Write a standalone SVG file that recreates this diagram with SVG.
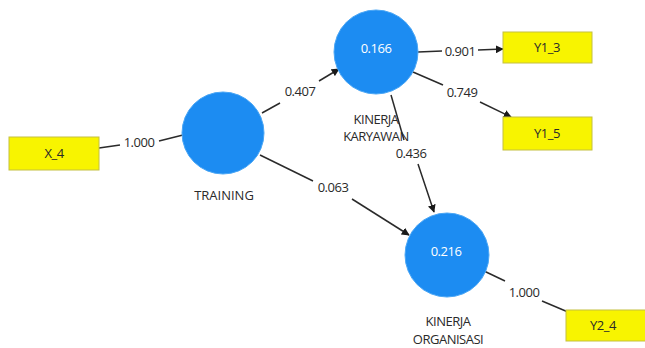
<svg xmlns="http://www.w3.org/2000/svg" width="645" height="348" viewBox="0 0 645 348">
<defs>
<style>
.lv{fill:#1c8cf2;stroke:#4aa6f5;stroke-width:1}
.mv{fill:#f8f400;stroke:#c4c040;stroke-width:1}
.t{font-family:"Open Sans","Liberation Sans",sans-serif;font-size:13px;fill:#2a2a2a;text-anchor:middle;letter-spacing:-0.5px}
.w{fill:#ffffff}
.c{stroke:#2a2a2a;stroke-width:1.5;fill:none}
</style>
<marker id="ah" viewBox="0 0 10 10" refX="9" refY="5" markerWidth="8" markerHeight="8" orient="auto" markerUnits="userSpaceOnUse">
<path d="M0,0 L10,5 L0,10 z" fill="#1a1a1a"/>
</marker>
</defs>
<rect width="645" height="348" fill="#fff"/>
<g id="connectors">
<path class="c" d="M99,148 L120,145"/>
<path class="c" d="M159,141 L183,135"/>
<text class="t" x="139" y="147">1.000</text>
<path class="c" d="M262,113 L280,103"/>
<path class="c" d="M319,81 L339,69" marker-end="url(#ah)"/>
<text class="t" x="300" y="96">0.407</text>
<path class="c" d="M418,52 L442,51"/>
<path class="c" d="M478,50 L503,49" marker-end="url(#ah)"/>
<text class="t" x="460" y="56">0.901</text>
<path class="c" d="M413,72 L443,85"/>
<path class="c" d="M480,102 L511,117" marker-end="url(#ah)"/>
<text class="t" x="462" y="97">0.749</text>
<path class="c" d="M391,95 L404,140"/>
<path class="c" d="M418,164 L434,212" marker-end="url(#ah)"/>
<text class="t" x="411" y="158">0.436</text>
<path class="c" d="M260,155 L313,181"/>
<path class="c" d="M352,199 L409,235" marker-end="url(#ah)"/>
<text class="t" x="333" y="192">0.063</text>
<path class="c" d="M484,271 L505,281"/>
<path class="c" d="M542,301 L568,312"/>
<text class="t" x="524" y="297">1.000</text>
</g>
<g id="X_4">
<rect class="mv" x="9" y="137" width="90" height="33"/>
<text class="t" x="54" y="158">X_4</text>
</g>
<g id="TRAINING">
<circle class="lv" cx="223" cy="133" r="41"/>
<text class="t" x="224" y="200" style="letter-spacing:0">TRAINING</text>
</g>
<g id="KINERJA_KARYAWAN">
<circle class="lv" cx="376" cy="52" r="42"/>
<text class="t w" x="376" y="53">0.166</text>
<text class="t" x="376" y="124">KINERJA</text>
<text class="t" x="376" y="141">KARYAWAN</text>
</g>
<g id="Y1_3">
<rect class="mv" x="503" y="32" width="89" height="31"/>
<text class="t" x="547" y="52">Y1_3</text>
</g>
<g id="Y1_5">
<rect class="mv" x="503" y="117" width="89" height="33"/>
<text class="t" x="547" y="138">Y1_5</text>
</g>
<g id="KINERJA_ORGANISASI">
<circle class="lv" cx="447" cy="255" r="42"/>
<text class="t w" x="446" y="256">0.216</text>
<text class="t" x="448" y="326">KINERJA</text>
<text class="t" x="448" y="344">ORGANISASI</text>
</g>
<g id="Y2_4">
<rect class="mv" x="566" y="310" width="86" height="31"/>
<text class="t" x="603" y="330">Y2_4</text>
</g>
</svg>
